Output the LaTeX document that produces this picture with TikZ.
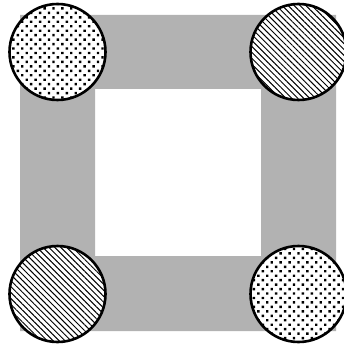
\documentclass[tikz,border=0pt]{standalone}
\usepackage{tikz}
\usetikzlibrary{patterns.meta}

\tikzset{
  disc/.style={circle, draw, line width=2.6pt, minimum size=96pt, inner sep=0pt,
    preaction={fill=white}},
  dotdisc/.style={disc, pattern={Dots[radius=1.7pt, distance=6.3pt, angle=45]}},
  hatchdisc/.style={disc, pattern={Lines[angle=-45, distance=4.2pt, line width=1pt]}}
}

\begin{document}
\begin{tikzpicture}[x=1pt, y=-1pt]
  \useasboundingbox (0,0) rectangle (343,347);
  \coordinate (OA) at (20,15);
  \coordinate (OB) at (336,331);
  \coordinate (IA) at (95,89);
  \coordinate (IB) at (261,256);
  \fill[black!30, even odd rule] (OA) rectangle (OB) (IA) rectangle (IB);
  \node[dotdisc] (tl) at (57.5,52) {};
  \node[hatchdisc] (tr) at (298.5,52) {};
  \node[hatchdisc] (bl) at (57.5,294) {};
  \node[dotdisc] (br) at (298.5,294) {};
\end{tikzpicture}
\end{document}
